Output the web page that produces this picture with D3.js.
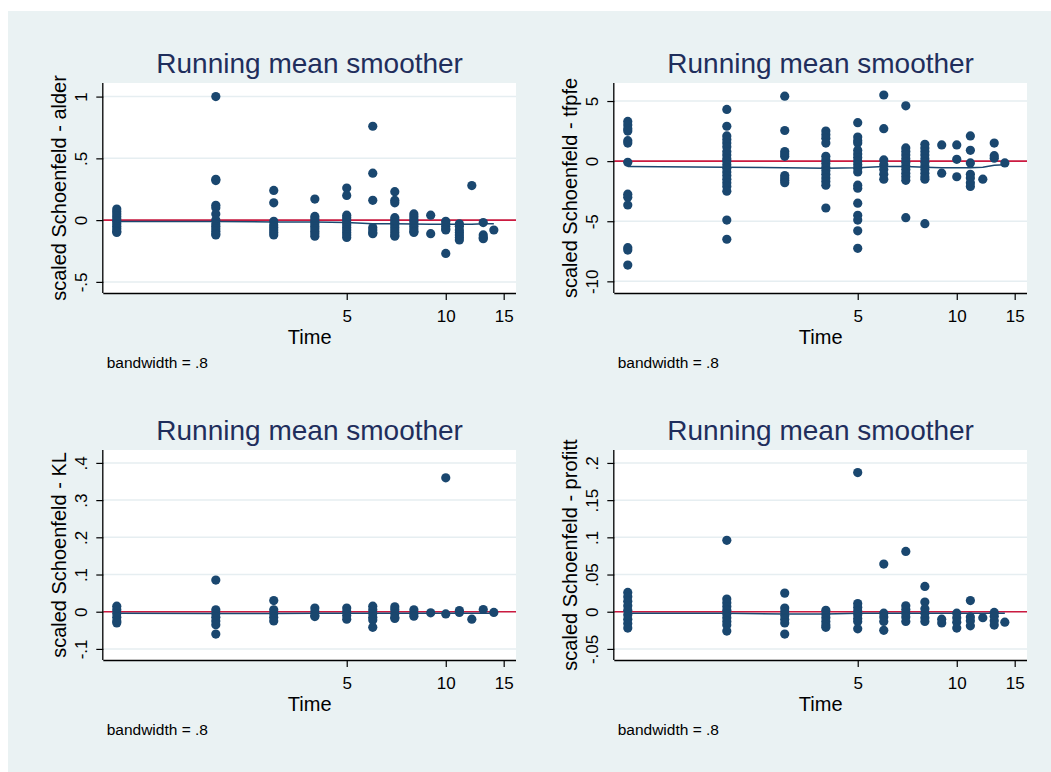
<!DOCTYPE html>
<html>
<head>
<meta charset="utf-8">
<script src="https://cdn.jsdelivr.net/npm/d3@7"></script>
<style>
  html, body { margin: 0; padding: 0; background: #fff; }
  svg { display: block; font-family: "Liberation Sans", Arial, Helvetica, sans-serif; }
</style>
</head>
<body>
<div id="chart"></div>
<script>
// analysis times (x), one column of residuals per time
const times = [1, 2, 3, 4, 5, 6, 7, 8, 9, 10, 11, 12, 13, 14];
const xTicks = [5, 10, 15];

// scaled Schoenfeld residuals, grouped by time
const alder = [
  [0.09, 0.07, 0.05, 0.03, 0.01, -0.01, -0.03, -0.05, -0.07, -0.09, -0.1],
  [1.0, 0.33, 0.32, 0.12, 0.1, 0.05, 0.0, -0.03, -0.05, -0.07, -0.09, -0.11, -0.12],
  [0.24, 0.14, -0.01, -0.04, -0.06, -0.08, -0.1, -0.12],
  [0.17, 0.03, 0.01, -0.01, -0.03, -0.05, -0.07, -0.09, -0.11, -0.13],
  [0.26, 0.2, 0.04, 0.02, 0.0, -0.02, -0.04, -0.06, -0.08, -0.1, -0.12, -0.14],
  [0.76, 0.38, 0.16, -0.06, -0.08, -0.1, -0.11],
  [0.23, 0.16, 0.14, 0.02, 0.0, -0.02, -0.04, -0.06, -0.08, -0.1, -0.12, -0.13],
  [0.05, 0.03, 0.01, -0.01, -0.03, -0.05, -0.07, -0.09, -0.1],
  [0.04, -0.11],
  [-0.01, -0.03, -0.05, -0.07, -0.08, -0.27],
  [-0.03, -0.05, -0.08, -0.1, -0.12, -0.14, -0.16],
  [0.28],
  [-0.02, -0.12, -0.14, -0.15],
  [-0.08]
];
const tfpfe = [
  [3.3, 3.0, 2.7, 2.5, 1.7, 1.5, -0.1, -2.75, -3.0, -3.65, -7.2, -7.4, -8.65],
  [4.3, 2.9, 2.1, 1.8, 1.5, 1.2, 0.8, 0.5, 0.2, 0.0, -0.3, -0.6, -0.9, -1.2, -1.5, -1.8, -2.1, -2.5, -4.9, -6.5],
  [5.4, 2.55, 0.8, 0.6, 0.4, -1.2, -1.4, -1.6, -1.8],
  [2.5, 2.2, 1.9, 1.5, 0.4, 0.1, -0.2, -0.5, -0.8, -1.1, -1.4, -1.7, -2.0, -3.9],
  [3.2, 2.0, 1.7, 1.5, 0.9, 0.6, 0.3, 0.0, -0.3, -0.6, -0.9, -2.0, -2.25, -3.5, -4.5, -4.9, -5.8, -7.25],
  [5.5, 2.7, 0.1, -0.3, -0.7, -1.1, -1.5],
  [4.6, 1.1, 0.8, 0.5, 0.2, -0.1, -0.4, -0.7, -1.0, -1.3, -1.6, -4.7],
  [1.4, 1.1, 0.8, 0.5, 0.2, -0.1, -0.4, -0.7, -1.0, -1.3, -1.5, -5.2],
  [1.35, -1.0],
  [1.35, 0.15, -1.3],
  [2.1, 0.9, -0.15, -1.1, -1.4, -1.8, -2.1],
  [-1.5],
  [1.5, 0.45, 0.25],
  [-0.15]
];
const kl = [
  [0.015, 0.005, -0.005, -0.015, -0.025, -0.03],
  [0.085, 0.005, -0.005, -0.015, -0.025, -0.035, -0.06],
  [0.03, 0.005, -0.005, -0.015, -0.025],
  [0.01, 0.0, -0.01, -0.013],
  [0.01, 0.0, -0.01, -0.02],
  [0.015, 0.005, -0.005, -0.015, -0.022, -0.042],
  [0.013, 0.005, -0.005, -0.015, -0.018],
  [0.005, -0.005, -0.012],
  [-0.003],
  [0.36, -0.006],
  [0.003, -0.002],
  [-0.02],
  [0.006],
  [-0.002]
];
const profitt = [
  [0.026, 0.02, 0.014, 0.008, 0.002, -0.004, -0.01, -0.016, -0.022],
  [0.096, 0.017, 0.012, 0.007, 0.002, -0.003, -0.008, -0.013, -0.018, -0.026],
  [0.025, 0.005, 0.0, -0.005, -0.01, -0.015, -0.03],
  [0.002, -0.003, -0.008, -0.013, -0.018, -0.021],
  [0.187, 0.011, 0.006, 0.001, -0.004, -0.009, -0.013, -0.023],
  [0.064, -0.002, -0.007, -0.013, -0.025],
  [0.081, 0.008, 0.003, -0.002, -0.007, -0.013],
  [0.034, 0.013, 0.004, -0.002, -0.008, -0.013],
  [-0.01, -0.015],
  [-0.002, -0.008, -0.014, -0.022],
  [0.015, -0.007, -0.012, -0.019],
  [-0.008],
  [-0.001, -0.006, -0.012, -0.018],
  [-0.014]
];

// running mean smoother (bandwidth .8), read at each time
const alderSmooth = [-0.012, -0.012, -0.015, -0.015, -0.02, -0.03, -0.03, -0.032, -0.033, -0.033, -0.033, -0.033, -0.03, -0.03];
const tfpfeSmooth = [-0.45, -0.5, -0.55, -0.6, -0.55, -0.45, -0.45, -0.5, -0.55, -0.55, -0.55, -0.5, -0.35, -0.3];
const klSmooth = [-0.004, -0.005, -0.005, -0.004, -0.004, -0.004, -0.004, -0.004, -0.004, -0.004, -0.004, -0.004, -0.004, -0.004];
const profittSmooth = [-0.002, -0.002, -0.003, -0.003, -0.002, -0.002, -0.002, -0.002, -0.002, -0.002, -0.002, -0.002, -0.002, -0.002];

// y tick values and labels
const alderTicks = [-0.5, 0, 0.5, 1];
const alderLabels = ["-.5", "0", ".5", "1"];
const tfpfeTicks = [-10, -5, 0, 5];
const tfpfeLabels = ["-10", "-5", "0", "5"];
const klTicks = [-0.1, 0, 0.1, 0.2, 0.3, 0.4];
const klLabels = ["-.1", "0", ".1", ".2", ".3", ".4"];
const profittTicks = [-0.05, 0, 0.05, 0.1, 0.15, 0.2];
const profittLabels = ["-.05", "0", ".05", ".1", ".15", ".2"];

const title = "Running mean smoother";
const xTitle = "Time";
const note = "bandwidth = .8";

// ---- layout ----
const W = 1051, H = 772;
const svg = d3.select("#chart").append("svg").attr("width", W).attr("height", H);
svg.append("rect").attr("x", 8).attr("y", 11).attr("width", W - 8).attr("height", H - 11).attr("fill", "#eaf2f3");

const panels = [
  { name: "alder", dx: 0, dy: 0, res: alder, sm: alderSmooth, ticks: alderTicks, labels: alderLabels, dom: [-0.59, 1.11] },
  { name: "tfpfe", dx: 511, dy: 0, res: tfpfe, sm: tfpfeSmooth, ticks: tfpfeTicks, labels: tfpfeLabels, dom: [-10.97, 6.5] },
  { name: "KL", dx: 0, dy: 367, res: kl, sm: klSmooth, ticks: klTicks, labels: klLabels, dom: [-0.1298, 0.4347] },
  { name: "profitt", dx: 511, dy: 367, res: profitt, sm: profittSmooth, ticks: profittTicks, labels: profittLabels, dom: [-0.0649, 0.2174] }
];

const navy = "#1a476f";
const red = "#cc1a40";

panels.forEach(p => {
  const left = 103.3 + p.dx, right = 516 + p.dx, top = 83 + p.dy, bottom = 293 + p.dy;
  const g = svg.append("g");

  const x = d3.scaleLog().domain([0.91, 16.35]).range([left, right]);
  const y = d3.scaleLinear().domain(p.dom).range([bottom, top]);

  // plot region
  g.append("rect").attr("x", left).attr("y", top).attr("width", right - left).attr("height", bottom - top).attr("fill", "#fff");

  // grid lines
  g.selectAll(".grid").data(p.ticks).join("line").attr("class", "grid")
    .attr("x1", left).attr("x2", right)
    .attr("y1", d => y(d)).attr("y2", d => y(d))
    .attr("stroke", "#e6eef1").attr("stroke-width", 1.5);

  // reference line at 0
  g.append("line").attr("x1", left).attr("x2", right).attr("y1", y(0)).attr("y2", y(0))
    .attr("stroke", red).attr("stroke-width", 1.6);

  // points
  const pts = [];
  p.res.forEach((vals, i) => vals.forEach(v => pts.push({ t: times[i], v })));
  g.selectAll(".pt").data(pts).join("circle").attr("class", "pt")
    .attr("cx", d => x(d.t)).attr("cy", d => y(d.v)).attr("r", 4.6)
    .attr("fill", navy);

  // smoother
  const line = d3.line().x((d, i) => x(times[i])).y(d => y(d));
  g.append("path").datum(p.sm).attr("fill", "none").attr("stroke", navy).attr("stroke-width", 1.5).attr("d", line);

  // axes
  const xAxis = d3.axisBottom(x).tickValues(xTicks).tickFormat(d3.format("d")).tickSize(7).tickSizeOuter(0);
  const gx = g.append("g").attr("transform", `translate(0,${bottom})`).call(xAxis);
  gx.select(".domain").attr("stroke", "#000").attr("stroke-width", 1.3).attr("d", `M${left},0.5H${right}`);
  gx.selectAll(".tick line").attr("stroke", "#000").attr("stroke-width", 1.2);
  gx.selectAll(".tick text").attr("font-size", 17).attr("fill", "#000").attr("font-family", null).attr("dy", null).attr("y", 28.7);

  const yAxis = d3.axisLeft(y).tickValues(p.ticks).tickFormat((d, i) => p.labels[i]).tickSize(7).tickSizeOuter(0);
  const gy = g.append("g").attr("transform", `translate(${left},0)`).call(yAxis);
  gy.select(".domain").attr("stroke", "#000").attr("stroke-width", 1.3).attr("d", `M-0.5,${top}V${bottom}`);
  gy.selectAll(".tick line").attr("stroke", "#000").attr("stroke-width", 1.2);
  gy.selectAll(".tick text").attr("font-size", 17).attr("fill", "#000").attr("font-family", null)
    .attr("x", null).attr("dy", null).attr("text-anchor", "middle")
    .attr("transform", "translate(-16.3,0) rotate(-90)");

  // titles
  g.append("text").attr("x", (left + right) / 2).attr("y", 73.3 + p.dy).attr("text-anchor", "middle")
    .attr("font-size", 28).attr("fill", "#1f2e5c").text(title);
  g.append("text").attr("x", (left + right) / 2).attr("y", 344 + p.dy).attr("text-anchor", "middle")
    .attr("font-size", 20).attr("fill", "#000").text(xTitle);
  g.append("text").attr("transform", `translate(${66 + p.dx},${(top + bottom) / 2}) rotate(-90)`)
    .attr("text-anchor", "middle").attr("font-size", 20).attr("fill", "#000")
    .text("scaled Schoenfeld - " + p.name);
  g.append("text").attr("x", 106.7 + p.dx).attr("y", 368.3 + p.dy)
    .attr("font-size", 15.5).attr("fill", "#000").text(note);
});
</script>
</body>
</html>
